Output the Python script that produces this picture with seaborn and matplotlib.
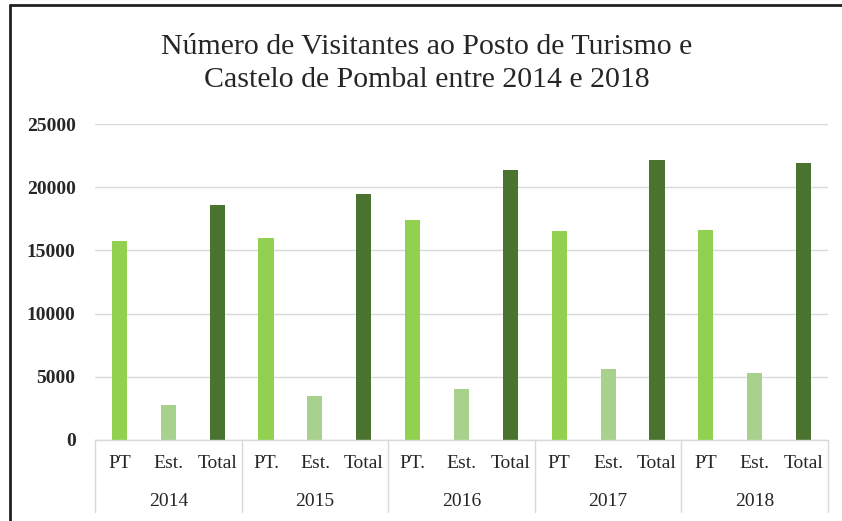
import pandas as pd
import numpy as np
import matplotlib
matplotlib.use("Agg")
import matplotlib.pyplot as plt
import matplotlib.transforms as mtransforms
from matplotlib.lines import Line2D
import seaborn as sns

# dados
anos = ["2014", "2015", "2016", "2017", "2018"]
pt = [15740, 16000, 17400, 16520, 16630]
est = [2800, 3480, 4010, 5650, 5280]
total = [18580, 19430, 21350, 22120, 21940]
rotulos = [["PT", "Est.", "Total"], ["PT.", "Est.", "Total"], ["PT.", "Est.", "Total"],
           ["PT", "Est.", "Total"], ["PT", "Est.", "Total"]]
series = ["PT", "Est.", "Total"]
cores = {"PT": "#92D050", "Est.": "#A9D18E", "Total": "#4A7330"}

linhas = []
for i, ano in enumerate(anos):
    for j, (s, v) in enumerate(zip(series, [pt[i], est[i], total[i]])):
        linhas.append({"chave": ano + "-" + s, "serie": s, "valor": v,
                       "rotulo": rotulos[i][j]})
df = pd.DataFrame(linhas)

sns.set_style("white")
plt.rcParams["font.family"] = ["Liberation Serif", "DejaVu Serif"]

fig = plt.figure(figsize=(8.42, 5.21), dpi=100)
ax = fig.add_axes([95 / 842, 1 - 440 / 521, (828 - 95) / 842, (440 - 124) / 521])

sns.barplot(data=df, x="chave", y="valor", hue="serie", palette=cores, saturation=1,
            width=0.31, dodge=False, legend=False, ax=ax, edgecolor="none")

ax.set_ylim(0, 25000)
ax.set_xlim(-0.5, len(df) - 0.5)
ax.set_yticks(np.arange(0, 25001, 5000))
ax.set_yticklabels([str(v) for v in range(0, 25001, 5000)], fontsize=14, fontweight="bold")
ax.set_xticks(range(len(df)))
ax.set_xticklabels(df["rotulo"], fontsize=14)
ax.tick_params(axis="y", length=0, pad=14)
ax.tick_params(axis="x", length=0, pad=11)
ax.set_xlabel("")
ax.set_ylabel("")
ax.grid(axis="y", color="#d9d9d9", linewidth=1)
ax.set_axisbelow(True)
for lado in ["top", "right", "left"]:
    ax.spines[lado].set_visible(False)
ax.spines["bottom"].set_color("#d9d9d9")
ax.spines["bottom"].set_linewidth(1)

trans = mtransforms.blended_transform_factory(ax.transData, ax.transAxes)
for k in range(len(anos) + 1):
    ax.plot([k * 3 - 0.5, k * 3 - 0.5], [0, -0.228], transform=trans,
            color="#d9d9d9", linewidth=1, clip_on=False)
for i, ano in enumerate(anos):
    ax.text(i * 3 + 1, -0.195, ano, transform=trans, ha="center", va="center",
            fontsize=14)

fig.text(0.507, 1 - 47 / 521, "Número de Visitantes ao Posto de Turismo e",
         ha="center", va="center", fontsize=21.5)
fig.text(0.507, 1 - 80 / 521, "Castelo de Pombal entre 2014 e 2018",
         ha="center", va="center", fontsize=21.5)

# moldura
fig.add_artist(Line2D([10 / 842, 1], [1 - 5 / 521, 1 - 5 / 521],
                      transform=fig.transFigure, color="#222222", linewidth=2))
fig.add_artist(Line2D([10 / 842, 10 / 842], [0, 1 - 5 / 521],
                      transform=fig.transFigure, color="#222222", linewidth=2))

fig.savefig("out.png", dpi=100)
